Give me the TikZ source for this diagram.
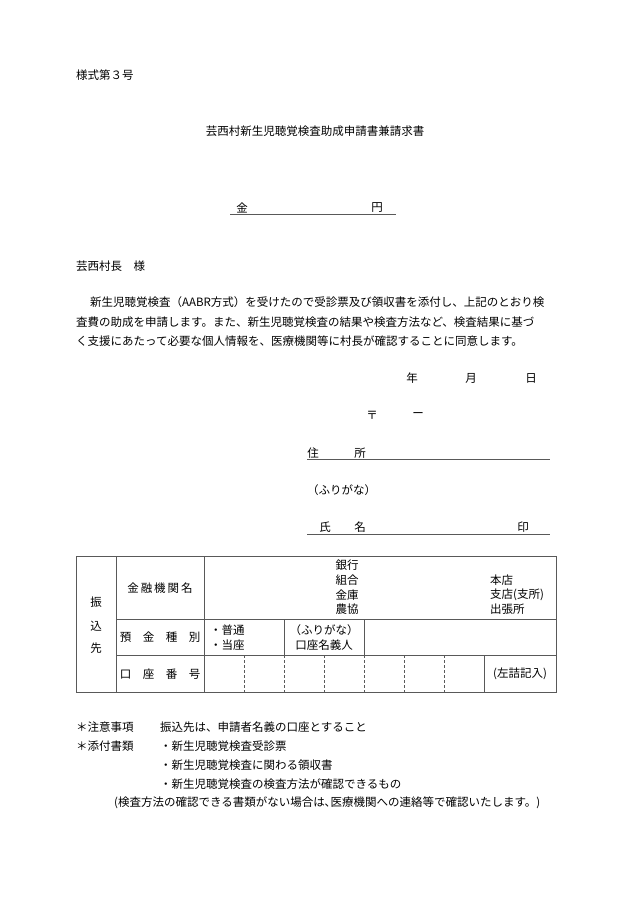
\documentclass[tikz,border=0pt]{standalone}
\usepackage{fontspec}
\setmainfont{Noto Sans CJK JP}
\begin{document}
\begin{tikzpicture}[x=1pt,y=-1pt,
  txt/.style={inner sep=0pt,font=\fontsize{11.5}{13}\selectfont},
  lft/.style={txt,anchor=west},
  rule/.style={line width=0.7pt,gray!70!black}]
\useasboundingbox[fill=white] (0,0) rectangle (630,915);
% header
\node[lft] (form) at (76,75) {様式第３号};
\node[txt] (title) at (315,131) {芸西村新生児聴覚検査助成申請書兼請求書};
\node[txt] (kin) at (242,208) {金};
\node[txt] (yen) at (377,208) {円};
\draw[rule] (230,214) -- (396,214);
\node[lft] (addr) at (76,266) {芸西村長　様};
% body
\node[lft] (p1) at (90,302) {新生児聴覚検査（AABR方式）を受けたので受診票及び領収書を添付し、上記のとおり検};
\node[lft] (p2) at (76,322) {査費の助成を申請します。また、新生児聴覚検査の結果や検査方法など、検査結果に基づ};
\node[lft] (p3) at (76,341) {く支援にあたって必要な個人情報を、医療機関等に村長が確認することに同意します。};
\node[txt] (nen) at (412,378) {年};
\node[txt] (tsuki) at (471,378) {月};
\node[txt] (hi) at (531,378) {日};
\node[txt] (post) at (372,415) {〒};
\node[txt] (dash) at (418,415) {ー};
\node[txt] (ju) at (313,453) {住};
\node[txt] (sho) at (360,453) {所};
\draw[rule] (307,459) -- (550,459);
\node[lft] (kana) at (307,490) {（ふりがな）};
\node[txt] (shi) at (325,527) {氏};
\node[txt] (mei) at (360,527) {名};
\node[txt] (in) at (523,527) {印};
\draw[rule] (307,534) -- (550,534);
% table
\draw[rule] (76,556) rectangle (556,692);
\draw[rule] (116,556) -- (116,692) (204,556) -- (204,692);
\draw[rule] (116,619) -- (556,619) (116,655) -- (556,655);
\draw[rule] (284,619) -- (284,655) (364,619) -- (364,655) (484,655) -- (484,692);
\foreach \x in {244,284,324,364,404,444}
  \draw[rule,densely dashed,line width=0.5pt] (\x,655) -- (\x,692);
\node[txt] (furi) at (96,602) {振};
\node[txt] (komi) at (96,626) {込};
\node[txt] (saki) at (96,648) {先};
\node[txt] (kikan) at (160,588) {金\,融\,機\,関\,名};
\node[txt] (ginko) at (347,565) {銀行};
\node[txt] (kumiai) at (347,580) {組合};
\node[txt] (kinko) at (347,595) {金庫};
\node[txt] (nokyo) at (347,609) {農協};
\node[lft] (honten) at (490,580) {本店};
\node[lft] (shiten) at (490,595) {支店(支所)};
\node[lft] (shucho) at (490,609) {出張所};
\node[txt] (shubetsu) at (160,637) {預\quad 金\quad 種\quad 別};
\node[lft] (futsu) at (210,630) {・普通};
\node[lft] (toza) at (210,645) {・当座};
\node[txt] (kana2) at (324,630) {（ふりがな）};
\node[txt] (meigi) at (324,645) {口座名義人};
\node[txt] (bango) at (160,674) {口\quad 座\quad 番\quad 号};
\node[txt] (hidari) at (520,674) {(左詰記入)};
% notes
\node[lft] (chui) at (76,727) {＊注意事項};
\node[lft] (chui2) at (160,727) {振込先は、申請者名義の口座とすること};
\node[lft] (tenpu) at (76,746) {＊添付書類};
\node[lft] (t1) at (160,746) {・新生児聴覚検査受診票};
\node[lft] (t2) at (160,765) {・新生児聴覚検査に関わる領収書};
\node[lft] (t3) at (160,784) {・新生児聴覚検査の検査方法が確認できるもの};
\node[lft] (t4) at (114,803) {(検査方法の確認できる書類がない場合は､医療機関への連絡等で確認いたします。)};
\end{tikzpicture}
\end{document}
